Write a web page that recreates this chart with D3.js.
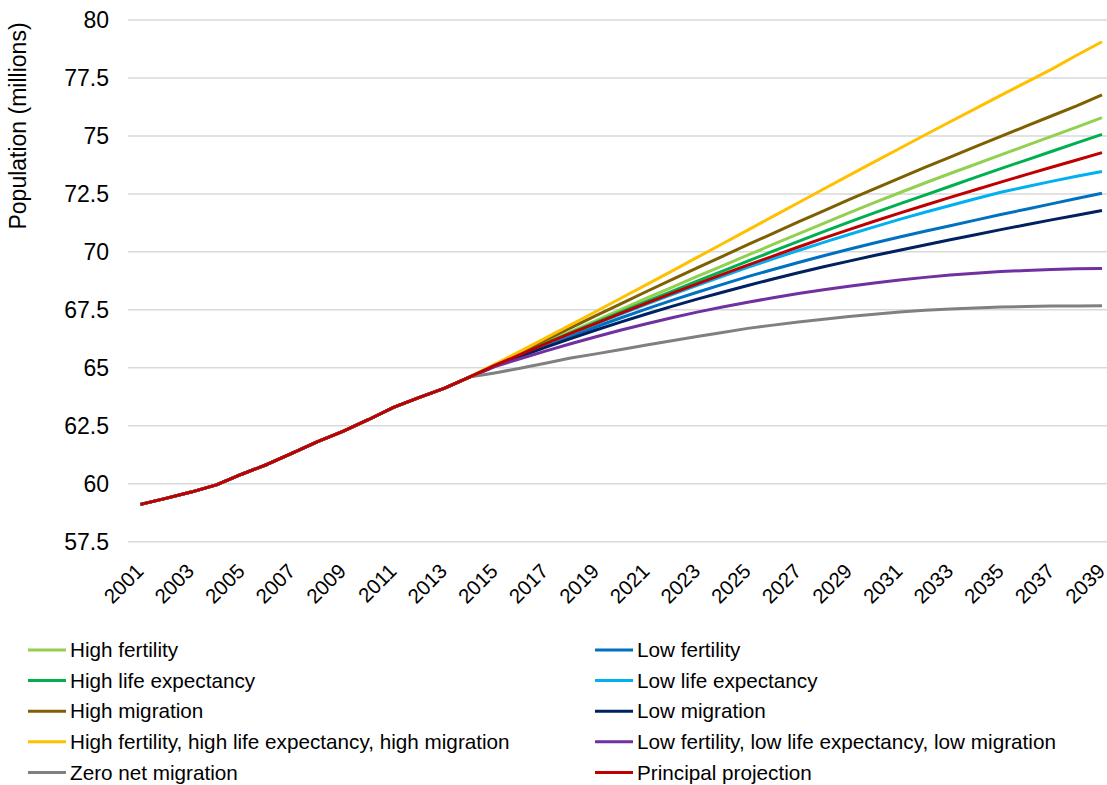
<!DOCTYPE html>
<html>
<head>
<meta charset="utf-8">
<script src="https://cdn.jsdelivr.net/npm/d3@7"></script>
<style>
    body { margin: 0; background: #fff; }
    text { font-family: "Liberation Sans", Arial, sans-serif; fill: #000; }
</style>
</head>
<body>
<div id="chart_projections"></div>
<script>

// years on the x axis
var years = d3.range(2001, 2040);
var tickYears = d3.range(2001, 2040, 2);
var yTicks = [57.5, 60, 62.5, 65, 67.5, 70, 72.5, 75, 77.5, 80];

// estimates 2001-2013, shared by all series
var pastEstimates = [59.11, 59.37, 59.64, 59.95, 60.41, 60.83, 61.32, 61.82, 62.26, 62.76, 63.29, 63.71, 64.11];

// projections 2014-2039
var highFertility = [64.60, 65.11, 65.60, 66.08, 66.56, 67.04, 67.52, 68.00, 68.47, 68.94, 69.40, 69.86, 70.32, 70.78, 71.23, 71.68, 72.12, 72.55, 72.97, 73.38, 73.78, 74.18, 74.58, 74.98, 75.38, 75.79];
var lowFertility = [64.60, 65.08, 65.52, 65.95, 66.37, 66.77, 67.16, 67.54, 67.91, 68.26, 68.60, 68.93, 69.24, 69.54, 69.83, 70.11, 70.38, 70.64, 70.89, 71.13, 71.37, 71.61, 71.84, 72.07, 72.30, 72.53];
var highLife = [64.60, 65.10, 65.58, 66.05, 66.51, 66.96, 67.41, 67.86, 68.30, 68.74, 69.17, 69.60, 70.03, 70.45, 70.87, 71.28, 71.68, 72.07, 72.45, 72.83, 73.21, 73.59, 73.96, 74.33, 74.70, 75.07];
var lowLife = [64.60, 65.10, 65.56, 66.01, 66.46, 66.90, 67.33, 67.75, 68.16, 68.56, 68.95, 69.33, 69.70, 70.06, 70.41, 70.75, 71.08, 71.40, 71.71, 72.00, 72.29, 72.57, 72.81, 73.04, 73.26, 73.47];
var highMigration = [64.60, 65.13, 65.66, 66.19, 66.72, 67.25, 67.77, 68.29, 68.80, 69.31, 69.81, 70.31, 70.80, 71.29, 71.77, 72.25, 72.72, 73.18, 73.64, 74.09, 74.54, 74.98, 75.42, 75.86, 76.30, 76.77];
var lowMigration = [64.60, 65.06, 65.48, 65.88, 66.26, 66.63, 66.98, 67.32, 67.65, 67.96, 68.26, 68.55, 68.83, 69.10, 69.36, 69.60, 69.84, 70.07, 70.30, 70.52, 70.74, 70.96, 71.17, 71.38, 71.58, 71.78];
var highAll = [64.60, 65.15, 65.71, 66.28, 66.85, 67.43, 68.01, 68.59, 69.17, 69.76, 70.35, 70.94, 71.53, 72.12, 72.71, 73.30, 73.88, 74.46, 75.04, 75.61, 76.18, 76.75, 77.31, 77.87, 78.48, 79.06];
var lowAll = [64.60, 65.05, 65.39, 65.72, 66.04, 66.34, 66.63, 66.90, 67.16, 67.40, 67.62, 67.83, 68.02, 68.20, 68.37, 68.52, 68.66, 68.79, 68.90, 69.00, 69.08, 69.15, 69.20, 69.24, 69.27, 69.28];
var zeroNet = [64.60, 64.78, 64.98, 65.20, 65.42, 65.60, 65.79, 65.98, 66.17, 66.35, 66.52, 66.70, 66.84, 66.98, 67.09, 67.21, 67.31, 67.41, 67.48, 67.54, 67.58, 67.62, 67.64, 67.66, 67.67, 67.68];
var principal = [64.60, 65.10, 65.57, 66.03, 66.48, 66.92, 67.36, 67.79, 68.21, 68.62, 69.03, 69.43, 69.82, 70.21, 70.59, 70.96, 71.32, 71.67, 72.01, 72.35, 72.68, 73.01, 73.33, 73.65, 73.96, 74.28];

var seriesNames = ["High fertility", "Low fertility", "High life expectancy", "Low life expectancy",
    "High migration", "Low migration", "High fertility, high life expectancy, high migration",
    "Low fertility, low life expectancy, low migration", "Zero net migration", "Principal projection"];
var seriesValues = [highFertility, lowFertility, highLife, lowLife, highMigration, lowMigration,
    highAll, lowAll, zeroNet, principal];
var seriesColors = ["#92d050", "#0070c0", "#00b050", "#00b0f0", "#7f6000", "#002060",
    "#ffc000", "#7030a0", "#808080", "#c00000"];

var series = seriesNames.map(function (name, i) {
    var values = pastEstimates.concat(seriesValues[i]);
    return {
        name: name,
        color: seriesColors[i],
        points: values.map(function (v, j) { return { year: years[j], value: v }; })
    };
});

var width = 1107, height = 785;
var plot = { left: 128, right: 1107, top: 20, bottom: 541.7 };

var svg = d3.select("#chart_projections")
    .append("svg")
    .attr("width", width)
    .attr("height", height);

var x = d3.scalePoint().domain(years).range([140.5, 1102]);
var y = d3.scaleLinear().domain([57.5, 80]).range([plot.bottom, plot.top]);

// horizontal grid
svg.append("g")
    .selectAll("line")
    .data(yTicks)
    .join("line")
    .attr("x1", plot.left)
    .attr("x2", plot.right)
    .attr("y1", function (d) { return y(d); })
    .attr("y2", function (d) { return y(d); })
    .attr("stroke", "#d9d9d9")
    .attr("stroke-width", 1.5);

// y axis labels
var yAxis = svg.append("g")
    .attr("transform", "translate(" + (plot.left + 2) + ",0)")
    .call(d3.axisLeft(y).tickValues(yTicks).tickSize(0).tickPadding(21).tickFormat(d3.format("")));
yAxis.select(".domain").remove();
yAxis.selectAll("text")
    .style("font-size", "23px")
    .style("font-family", "'Liberation Sans', Arial, sans-serif")
    .attr("fill", "#000");

svg.append("text")
    .attr("transform", "translate(26,126) rotate(-90)")
    .attr("text-anchor", "middle")
    .style("font-size", "23px")
    .text("Population (millions)");

// x axis labels, rotated
var xAxis = svg.append("g")
    .attr("transform", "translate(0," + plot.bottom + ")")
    .call(d3.axisBottom(x).tickValues(tickYears).tickSize(0).tickFormat(d3.format("d")));
xAxis.select(".domain").remove();
xAxis.selectAll("text")
    .attr("y", 0)
    .attr("text-anchor", "end")
    .attr("transform", "translate(-6.5,20.5) rotate(-45)")
    .attr("dy", "0.71em")
    .style("font-size", "20.5px")
    .style("font-family", "'Liberation Sans', Arial, sans-serif")
    .attr("fill", "#000");

// series lines
var line = d3.line()
    .x(function (d) { return x(d.year); })
    .y(function (d) { return y(d.value); });

svg.append("g")
    .selectAll("path")
    .data(series)
    .join("path")
    .attr("d", function (d) { return line(d.points); })
    .attr("fill", "none")
    .attr("stroke", function (d) { return d.color; })
    .attr("stroke-width", 3)
    .attr("stroke-linejoin", "round");

// legend in two columns
var legend = svg.append("g")
    .selectAll("g")
    .data(series)
    .join("g")
    .attr("transform", function (d, i) {
        var col = i % 2, row = Math.floor(i / 2);
        return "translate(" + (col === 0 ? 28 : 595) + "," + (650 + row * 30.6) + ")";
    });

legend.append("line")
    .attr("x1", 0)
    .attr("x2", 38)
    .attr("stroke", function (d) { return d.color; })
    .attr("stroke-width", 3);

legend.append("text")
    .attr("x", 42)
    .attr("dy", "0.35em")
    .style("font-size", "20.7px")
    .text(function (d) { return d.name; });

</script>
</body>
</html>
